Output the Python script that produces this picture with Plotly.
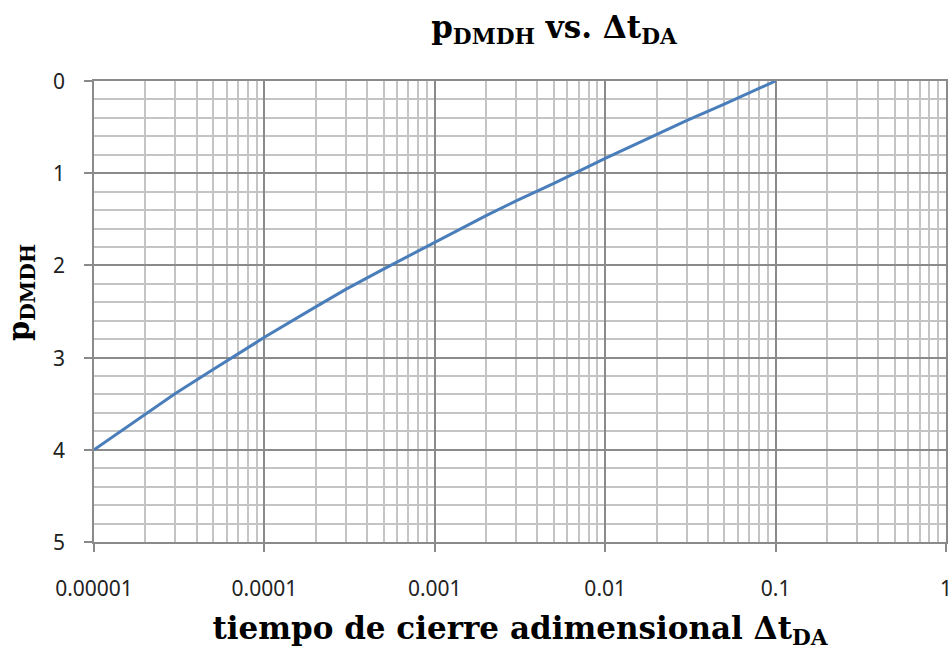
import plotly.graph_objects as go

# Dimensionless shut-in time and the MDH dimensionless pressure
t_da = [1e-5, 2e-5, 3e-5, 5e-5, 1e-4, 2e-4, 3e-4, 5e-4, 1e-3,
        2e-3, 3e-3, 5e-3, 1e-2, 2e-2, 3e-2, 5e-2, 0.1]
p_dmdh = [4.00, 3.61, 3.39, 3.13, 2.78, 2.45, 2.26, 2.04, 1.75,
          1.46, 1.30, 1.11, 0.84, 0.58, 0.43, 0.25, 0.00]

x_tickvals = [1e-5, 1e-4, 1e-3, 1e-2, 1e-1, 1]
x_ticktext = ["0.00001", "0.0001", "0.001", "0.01", "0.1", "1"]
y_tickvals = [0, 1, 2, 3, 4, 5]

MAJOR = "#8a8a8a"
MINOR = "#c4c4c4"
SERIF = "DejaVu Serif"
SANS = "Noto Sans"
PLOT_W = 852  # plot-area width in px (952 - margins)

fig = go.Figure()
fig.add_trace(go.Scatter(
    x=t_da, y=p_dmdh, mode="lines",
    line=dict(color="#4A7EBB", width=3),
    showlegend=False,
))

# y tick labels placed a little further from the axis than plotly's default
y_labels = [dict(
    text=str(v), showarrow=False, xref="paper", yref="y",
    x=-27 / PLOT_W, y=v, xanchor="right", yanchor="middle",
    font=dict(family=SANS, size=21, color="#222"),
) for v in y_tickvals]

fig.update_layout(
    width=952, height=656,
    margin=dict(l=94, r=6, t=81, b=114),
    paper_bgcolor="white", plot_bgcolor="white",
    title=dict(
        text="<b>p<sub>DMDH</sub> vs. Δt<sub>DA</sub></b>",
        x=554 / 952, xanchor="center", y=1 - 27 / 656, yanchor="middle",
        font=dict(family=SERIF, size=31, color="black"),
    ),
    annotations=y_labels + [dict(
        text="<b>p<sub>DMDH</sub></b>", textangle=-90, showarrow=False,
        xref="paper", yref="paper", x=-73 / PLOT_W, y=1 - 212 / 461,
        xanchor="center", yanchor="middle",
        font=dict(family=SERIF, size=29, color="black"),
    )],
)

fig.update_xaxes(
    type="log", range=[-5, 0], automargin=False,
    tickvals=x_tickvals, ticktext=x_ticktext,
    tickfont=dict(family=SANS, size=21, color="#222"),
    ticks="outside", ticklen=8, tickcolor=MAJOR, tickwidth=1.5,
    ticklabelstandoff=19, ticklabeloverflow="allow",
    showgrid=True, gridcolor=MAJOR, gridwidth=1.5,
    minor=dict(dtick="D1", showgrid=True, gridcolor=MINOR, gridwidth=1.5, ticks=""),
    showline=True, linecolor=MAJOR, linewidth=1.5, mirror=True,
    zeroline=False,
    title=dict(
        text="<b>tiempo de cierre adimensional Δt<sub>DA</sub></b>",
        font=dict(family=SERIF, size=31, color="black"), standoff=16,
    ),
)

fig.update_yaxes(
    range=[5, 0], automargin=False,
    tickvals=y_tickvals, showticklabels=False,
    ticks="outside", ticklen=8, tickcolor=MAJOR, tickwidth=1.5,
    showgrid=True, gridcolor=MAJOR, gridwidth=1.5,
    minor=dict(dtick=0.2, showgrid=True, gridcolor=MINOR, gridwidth=1.5, ticks=""),
    showline=True, linecolor=MAJOR, linewidth=1.5, mirror=True,
    zeroline=False,
)

fig.write_html("out.html")
